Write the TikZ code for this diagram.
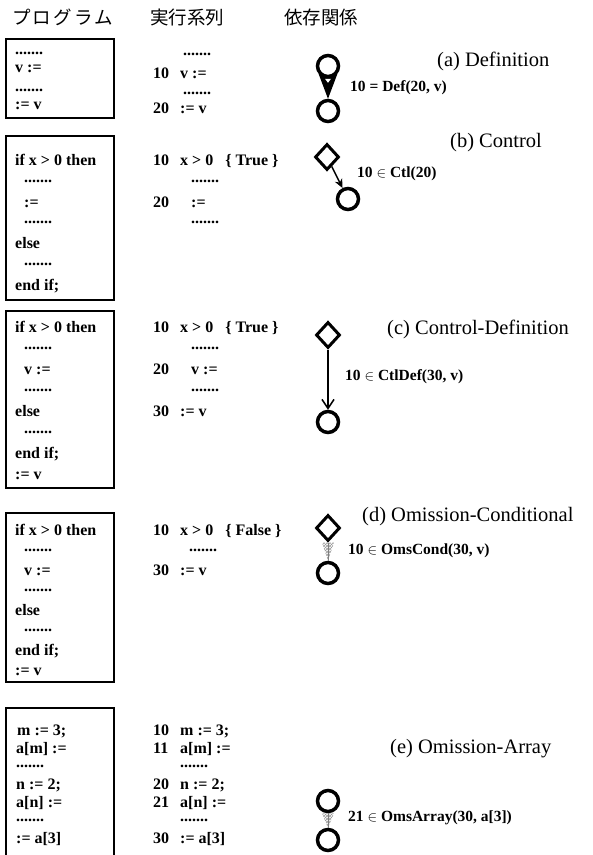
\documentclass[tikz,border=0pt]{standalone}
\usepackage{fontspec}
\setmainfont{Liberation Serif}
\newfontfamily\jpfont{Noto Sans CJK JP}
\newfontfamily\jpwide[LetterSpace=12]{Noto Sans CJK JP}
\usetikzlibrary{shapes.geometric,arrows.meta,patterns,calc,backgrounds}

\begin{document}
\begin{tikzpicture}[x=1pt,y=-1pt,
  code/.style={anchor=base west,inner sep=0,font=\fontsize{16}{19}\selectfont\bfseries},
  lbl/.style={anchor=west,inner sep=0,font=\fontsize{15.5}{18}\selectfont\bfseries},
  capt/.style={anchor=west,inner sep=0,font=\fontsize{20.5}{24}\selectfont},
  head/.style={anchor=west,inner sep=0,font=\fontsize{18.5}{22}\selectfont\jpfont},
  codebox/.style={draw,line width=1.2},
  usenode/.style={circle,draw,fill=white,line width=3.5,minimum size=21,inner sep=0},
  condnode/.style={diamond,draw,fill=white,line width=3,minimum width=24,minimum height=26,inner sep=0},
  flowarrow/.style={line width=1.5},
  omitfill/.style={pattern=crosshatch,pattern color=gray!80},
  omitline/.style={draw=gray,line width=0.6},
]
\useasboundingbox (0,0) rectangle (593,855);

% column headings
\node[head,font=\fontsize{18.5}{22}\selectfont\jpwide] (h1) at (12,17) {プログラム};
\node[head] (h2) at (150,17) {実行系列};
\node[head] (h3) at (284,17) {依存関係};

% ---------------- (a) Definition
\draw[codebox] (6,39) rectangle (114,118);
\node[code] (pa1) at (15,54.5) {.......};
\node[code] (pa2) at (15,72) {v :=};
\node[code] (pa3) at (15,91.5) {.......};
\node[code] (pa4) at (15,109) {:= v};

\node[code] (ea1) at (183,55.5) {.......};
\node[code] (na1) at (153,78) {10};
\node[code] (ea2) at (180,78) {v :=};
\node[code] (ea3) at (183,94.5) {.......};
\node[code] (na2) at (153,113) {20};
\node[code] (ea4) at (180,113) {:= v};

\node[usenode] (a1) at (328,66) {};
\node[usenode] (a2) at (328,111) {};
\begin{scope}[on background layer]
  \fill (a1.-140) -- (a1.-40) -- (a2.north) -- cycle;
\end{scope}
\fill[white] ($(a1.south)+(-3,0.5)$) -- ($(a1.south)+(0,4.5)$) -- ($(a1.south)+(3,0.5)$) -- cycle;
\node[lbl] (la) at (350,88) {10 = Def(20, v)};
\node[capt] (ca) at (437,61) {(a) Definition};

% ---------------- (b) Control
\draw[codebox] (6,136) rectangle (114,300);
\node[code] (pb1) at (15,165) {if x > 0 then};
\node[code] (pb2) at (24,182.5) {.......};
\node[code] (pb3) at (24,207) {:=};
\node[code] (pb4) at (24,223.5) {.......};
\node[code] (pb5) at (15,248) {else};
\node[code] (pb6) at (24,265.5) {.......};
\node[code] (pb7) at (15,290) {end if;};

\node[code] (nb1) at (153,165) {10};
\node[code] (eb1) at (180,165) {x > 0\hspace{12pt}\{ True \}};
\node[code] (eb2) at (191,182.5) {.......};
\node[code] (nb2) at (153,207) {20};
\node[code] (eb3) at (191,207) {:=};
\node[code] (eb4) at (191,223.5) {.......};

\node[condnode] (b1) at (327,157) {};
\node[usenode] (b2) at (348,199) {};
\draw[flowarrow,-{Stealth[length=9,width=8]}] (b1) -- (b2);
\node[lbl] (lb) at (357,174) {10 $\in$ Ctl(20)};
\node[capt] (cb) at (450,143) {(b) Control};

% ---------------- (c) Control-Definition
\draw[codebox] (6,311) rectangle (114,488);
\node[code] (pc1) at (15,332) {if x > 0 then};
\node[code] (pc2) at (24,349.5) {.......};
\node[code] (pc3) at (24,374) {v :=};
\node[code] (pc4) at (24,391.5) {.......};
\node[code] (pc5) at (15,416) {else};
\node[code] (pc6) at (24,433.5) {.......};
\node[code] (pc7) at (15,458) {end if;};
\node[code] (pc8) at (15,479) {:= v};

\node[code] (nc1) at (153,332) {10};
\node[code] (ec1) at (180,332) {x > 0\hspace{12pt}\{ True \}};
\node[code] (ec2) at (191,349.5) {.......};
\node[code] (nc2) at (153,374) {20};
\node[code] (ec3) at (191,374) {v :=};
\node[code] (ec4) at (191,391.5) {.......};
\node[code] (nc3) at (153,416) {30};
\node[code] (ec5) at (180,416) {:= v};

\node[condnode] (c1) at (328,335) {};
\node[usenode] (c2) at (328,422) {};
\draw[flowarrow,-{Straight Barb[length=9,width=12]}] (c1) -- (c2);
\node[lbl] (lc) at (345,377) {10 $\in$ CtlDef(30, v)};
\node[capt] (cc) at (387,329) {(c) Control-Definition};

% ---------------- (d) Omission-Conditional
\draw[codebox] (6,513) rectangle (114,682);
\node[code] (pd1) at (15,535) {if x > 0 then};
\node[code] (pd2) at (24,551.5) {.......};
\node[code] (pd3) at (24,575) {v :=};
\node[code] (pd4) at (24,591.5) {.......};
\node[code] (pd5) at (15,615) {else};
\node[code] (pd6) at (24,631.5) {.......};
\node[code] (pd7) at (15,655) {end if;};
\node[code] (pd8) at (15,675) {:= v};

\node[code] (nd1) at (153,535) {10};
\node[code] (ed1) at (180,535) {x > 0\hspace{12pt}\{ False \}};
\node[code] (ed2) at (189,551.5) {.......};
\node[code] (nd2) at (153,575) {30};
\node[code] (ed3) at (180,575) {:= v};

\node[condnode] (d1) at (328,528) {};
\node[usenode] (d2) at (328,573) {};
\path[omitfill] ($(d1.south)+(-6,0)$) -- (d2.north) -- ($(d1.south)+(6,0)$) -- cycle;
\draw[omitline] (d1.south) -- (d2.north);
\node[lbl] (ld) at (348,551) {10 $\in$ OmsCond(30, v)};
\node[capt] (cd) at (362,517) {(d) Omission-Conditional};

% ---------------- (e) Omission-Array
\draw[codebox] (6,856) -- (6,708) -- (114,708) -- (114,856);
\node[code] (pe1) at (17,735) {m := 3;};
\node[code] (pe2) at (16,753) {a[m] :=};
\node[code] (pe3) at (16,767.5) {.......};
\node[code] (pe4) at (16,789) {n := 2;};
\node[code] (pe5) at (16,807) {a[n] :=};
\node[code] (pe6) at (16,821.5) {.......};
\node[code] (pe7) at (16,843) {:= a[3]};

\node[code] (ne1) at (153,735) {10};
\node[code] (ee1) at (180,735) {m := 3;};
\node[code] (ne2) at (153,753) {11};
\node[code] (ee2) at (180,753) {a[m] :=};
\node[code] (ee3) at (180,767.5) {.......};
\node[code] (ne3) at (153,789) {20};
\node[code] (ee4) at (180,789) {n := 2;};
\node[code] (ne4) at (153,807) {21};
\node[code] (ee5) at (180,807) {a[n] :=};
\node[code] (ee6) at (180,821.5) {.......};
\node[code] (ne5) at (153,843) {30};
\node[code] (ee7) at (180,843) {:= a[3]};

\node[usenode] (e1) at (328,801) {};
\node[usenode] (e2) at (328,840) {};
\path[omitfill] ($(e1.south)+(-6,0)$) -- (e2.north) -- ($(e1.south)+(6,0)$) -- cycle;
\draw[omitline] (e1.south) -- (e2.north);
\node[lbl] (le) at (348,818) {21 $\in$ OmsArray(30, a[3])};
\node[capt] (ce) at (390,749) {(e) Omission-Array};
\end{tikzpicture}
\end{document}
